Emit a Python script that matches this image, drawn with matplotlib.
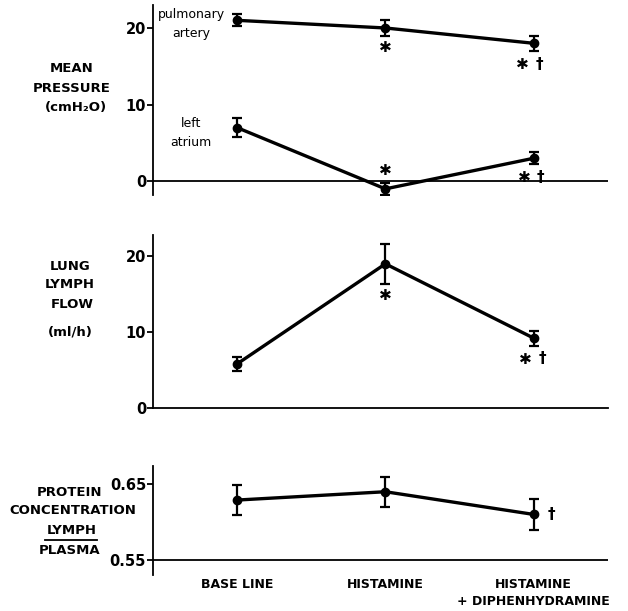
import numpy as np
import matplotlib
matplotlib.use('Agg')
import matplotlib.pyplot as plt

plt.rcParams['font.family'] = ['DejaVu Sans']
plt.rcParams['font.weight'] = 'bold'

# data
conditions = ['BASE LINE', 'HISTAMINE', 'HISTAMINE\n+ DIPHENHYDRAMINE']
pa_mean = [21.0, 20.0, 18.0]
pa_err = [0.8, 1.05, 1.0]
la_mean = [7.0, -1.0, 3.0]
la_err = [1.2, 0.8, 0.8]
flow_mean = [5.8, 19.0, 9.2]
flow_err = [0.9, 2.6, 1.0]
prot_mean = [0.629, 0.640, 0.610]
prot_err = [0.020, 0.020, 0.020]

W, H = 628, 611
fig = plt.figure(figsize=(W / 100, H / 100), dpi=100)

def rect(left, top, right, bottom):
    return [left / W, 1 - bottom / H, (right - left) / W, (bottom - top) / H]

def px(x, y):
    return x / W, 1 - y / H

x = np.arange(len(conditions))
XLIM = (-0.566, 2.5)
LW = 1.3

def style(ax):
    ax.set_xlim(*XLIM)
    for s in ['top', 'right']:
        ax.spines[s].set_visible(False)
    ax.spines['left'].set_linewidth(LW)
    ax.spines['bottom'].set_linewidth(LW)
    ax.tick_params(axis='y', direction='out', length=4, width=LW, pad=1,
                   labelsize=10.5)
    ax.tick_params(axis='x', length=0)

def series(ax, m, e):
    ax.errorbar(x, m, yerr=e, color='black', lw=2.4, marker='o', ms=6,
                elinewidth=1.6, capsize=3.5, capthick=1.6)

def mark(ax, i, y, s, dx, dy, size=11):
    ax.annotate(s, xy=(x[i], y), xytext=(dx, -dy), textcoords='offset pixels',
                ha='center', va='center', fontsize=size, fontweight='bold')

# panel 1: pressures
ax1 = fig.add_axes(rect(153, 5, 608, 195))
style(ax1)
ax1.set_ylim(-1.8, 23)
ax1.spines['bottom'].set_visible(False)
ax1.axhline(0, color='black', lw=LW)
ax1.set_yticks([0, 10, 20])
ax1.set_xticks([])
series(ax1, pa_mean, pa_err)
series(ax1, la_mean, la_err)
ax1.text(-0.31, 21.7, 'pulmonary', ha='center', va='center', fontsize=9,
         fontweight='normal')
ax1.text(-0.31, 19.3, 'artery', ha='center', va='center', fontsize=9,
         fontweight='normal')
ax1.text(-0.31, 7.5, 'left', ha='center', va='center', fontsize=9,
         fontweight='normal')
ax1.text(-0.31, 5.0, 'atrium', ha='center', va='center', fontsize=9,
         fontweight='normal')
mark(ax1, 1, pa_mean[1], '✱', 0, 20)
mark(ax1, 2, pa_mean[2], '✱', -11, 21)
mark(ax1, 2, pa_mean[2], '†', 6, 21)
mark(ax1, 1, la_mean[1], '✱', 0, -18)
mark(ax1, 2, la_mean[2], '✱', -9, 19)
mark(ax1, 2, la_mean[2], '†', 7, 19)

# panel 2: lymph flow
ax2 = fig.add_axes(rect(153, 235, 608, 408))
style(ax2)
ax2.set_ylim(0, 22.8)
ax2.set_yticks([0, 10, 20])
ax2.set_xticks([])
series(ax2, flow_mean, flow_err)
mark(ax2, 1, flow_mean[1], '✱', 0, 32)
mark(ax2, 2, flow_mean[2], '✱', -8, 21)
mark(ax2, 2, flow_mean[2], '†', 9, 20)

# panel 3: protein ratio
ax3 = fig.add_axes(rect(153, 466, 608, 575))
style(ax3)
ax3.set_ylim(0.530, 0.674)
ax3.spines['bottom'].set_visible(False)
ax3.axhline(0.55, color='black', lw=LW)
ax3.set_yticks([0.55, 0.65])
ax3.set_yticklabels(['0.55', '0.65'])
ax3.set_xticks(x)
ax3.set_xticklabels(conditions, fontsize=9, fontweight='bold',
                    linespacing=1.45)
ax3.tick_params(axis='x', pad=2)
series(ax3, prot_mean, prot_err)
mark(ax3, 2, prot_mean[2], '†', 18, 0)

# left-hand titles
def lines(xs, ys, texts, size=9.5):
    for xx, yy, t in zip(xs, ys, texts):
        fig.text(*px(xx, yy), t, ha='center', va='center', fontsize=size,
                 fontweight='bold')

lines([72, 72, 76], [68, 88, 108], ['MEAN', 'PRESSURE', '(cmH₂O)'])
lines([70, 70, 72, 70], [266, 285, 305, 332],
      ['LUNG', 'LYMPH', 'FLOW', '(ml/h)'])
lines([70, 73, 72, 70], [492, 511, 531, 551],
      ['PROTEIN', 'CONCENTRATION', 'LYMPH', 'PLASMA'])
ul = plt.Line2D([45 / W, 97 / W], [1 - 540 / H, 1 - 540 / H],
                transform=fig.transFigure, color='black', lw=1.3)
fig.add_artist(ul)

fig.savefig('out.png', dpi=100)
